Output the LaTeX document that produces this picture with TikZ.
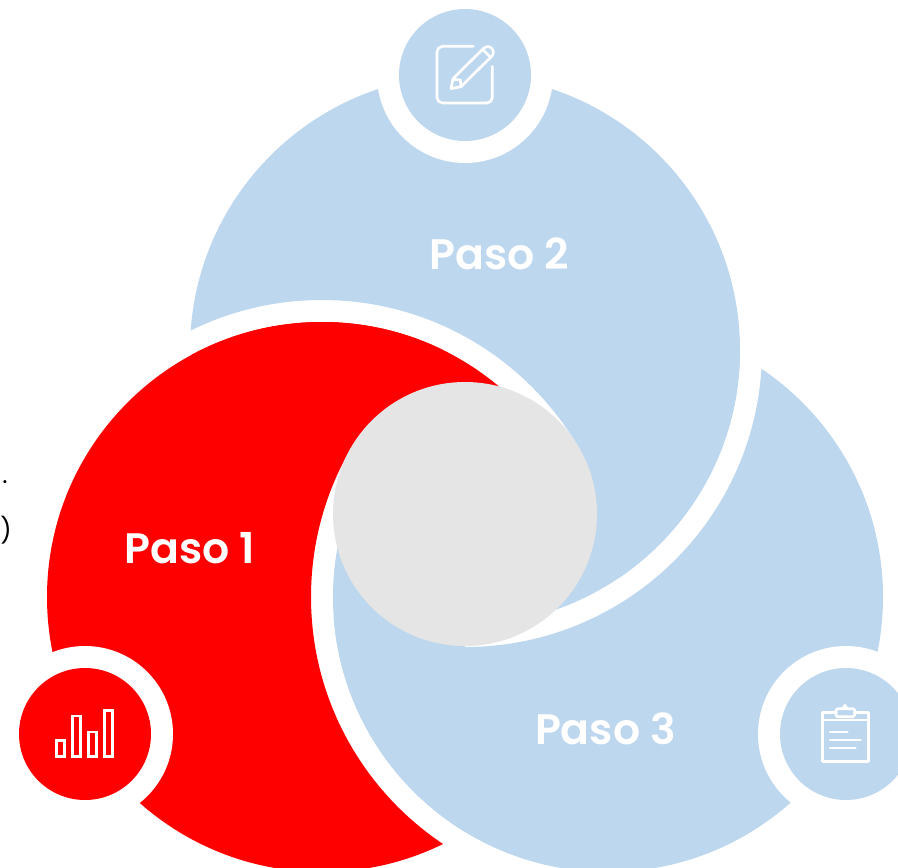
\documentclass[tikz,border=0pt]{standalone}
\usepackage{fontspec}
\setmainfont{Poppins}
\newfontfamily\pasofont{Poppins SemiBold}
\definecolor{pasoblue}{HTML}{BDD7EE}
\definecolor{pasogray}{HTML}{E5E5E5}
\definecolor{pasored}{HTML}{FF0000}
\tikzset{
  pasolabel/.style={text=white,font=\fontsize{42.6}{46}\selectfont\pasofont,inner sep=0pt,anchor=center},
  stray/.style={text=black,font=\fontsize{25}{28}\selectfont,inner sep=0pt,anchor=center},
  icon/.style={draw=white,line width=2.7pt,fill=none,line join=round,line cap=round},
  iconred/.style={draw=white,line width=2.7pt,fill=none,line join=miter},
}
\begin{document}
\begin{tikzpicture}[x=1pt,y=-1pt]
\useasboundingbox (0,0) rectangle (898,868);
\clip (0,0) rectangle (898,868);
% big circles, each one cut by the white ring of the next
\begin{scope}[even odd rule]
  \clip (-50,-50) rectangle (950,950) (322,597) circle[radius=297];
  \fill[pasoblue] (465,350) circle[radius=275];
\end{scope}
\begin{scope}[even odd rule]
  \clip (-50,-50) rectangle (950,950) (465,350) circle[radius=297];
  \fill[pasoblue] (608,597) circle[radius=275];
\end{scope}
\begin{scope}[even odd rule]
  \clip (-50,-50) rectangle (950,950) (608,597) circle[radius=297];
  \fill[pasored] (322,597) circle[radius=275];
\end{scope}
% the part of each circle that runs on under the centre, past the end of the ring
\begin{scope}
  \clip (465,514) -- (-447,-14) -- (-447,-800) -- (1377,-800) -- (1377,-14) -- cycle;
  \fill[pasored] (322,597) circle[radius=275];
\end{scope}
\begin{scope}
  \clip (465,514) -- (1377,-14) -- (1600,1600) -- (465,1600) -- cycle;
  \fill[pasoblue] (465,350) circle[radius=275];
\end{scope}
\begin{scope}
  \clip (465,514) -- (465,1600) -- (-700,1600) -- (-447,-14) -- cycle;
  \fill[pasoblue] (608,597) circle[radius=275];
\end{scope}
% centre
\fill[pasogray] (465,514) circle[radius=132];
% small circles
\fill[white] (465,75) circle[radius=88];
\fill[pasoblue] (465,75) circle[radius=66];
\fill[white] (85,734) circle[radius=88];
\fill[pasored] (85,734) circle[radius=66];
\fill[white] (846,734) circle[radius=88];
\fill[pasoblue] (846,734) circle[radius=66];
% labels
\node[pasolabel] (p1) at (190,548) {Paso 1};
\node[pasolabel] (p2) at (499.5,254) {Paso 2};
\node[pasolabel] (p3) at (605.5,729) {Paso 3};
\node[stray] (s1) at (5,482) {.};
\node[stray] (s2) at (6,530.5) {)};
% pencil icon
\begin{scope}[shift={(400,0)},x=0.3333pt,y=-0.3333pt]
  \draw[icon,rounded corners=5.5pt] (220,139) -- (111,139) -- (111,309) -- (277,309) -- (277,199);
  \draw[icon] (153,266) -- (159,236) -- (250,146)
     .. controls (258,138) and (268,138) .. (275,145)
     .. controls (282,152) and (282,162) .. (274,170)
     -- (183,260) -- cycle;
  \draw[icon] (159,238) -- (181,240) -- (183,260);
  \draw[icon] (248,148) -- (272,172);
\end{scope}
% bars icon
\begin{scope}[shift={(20,670)},x=0.3333pt,y=-0.3333pt]
  \draw[iconred] (109,212) rectangle (134,260);
  \draw[iconred] (157,138) rectangle (182,260);
  \draw[iconred] (205,186) rectangle (230,260);
  \draw[iconred] (253,122) rectangle (278,260);
\end{scope}
% clipboard icon
\begin{scope}[shift={(780,670)},x=0.3333pt,y=-0.3333pt]
  \draw[icon] (168,128) -- (127,128) -- (127,275) -- (265,275) -- (265,128) -- (224,128);
  \draw[icon] (127,150) -- (265,150);
  \draw[icon,rounded corners=1.5pt] (168,116) rectangle (224,140);
  \draw[icon] (190,114) -- (195,106) -- (200,114);
  \draw[icon] (150,186) -- (202,186);
  \draw[icon] (150,210) -- (242,210);
  \draw[icon] (150,234) -- (226,234);
\end{scope}
\end{tikzpicture}
\end{document}
